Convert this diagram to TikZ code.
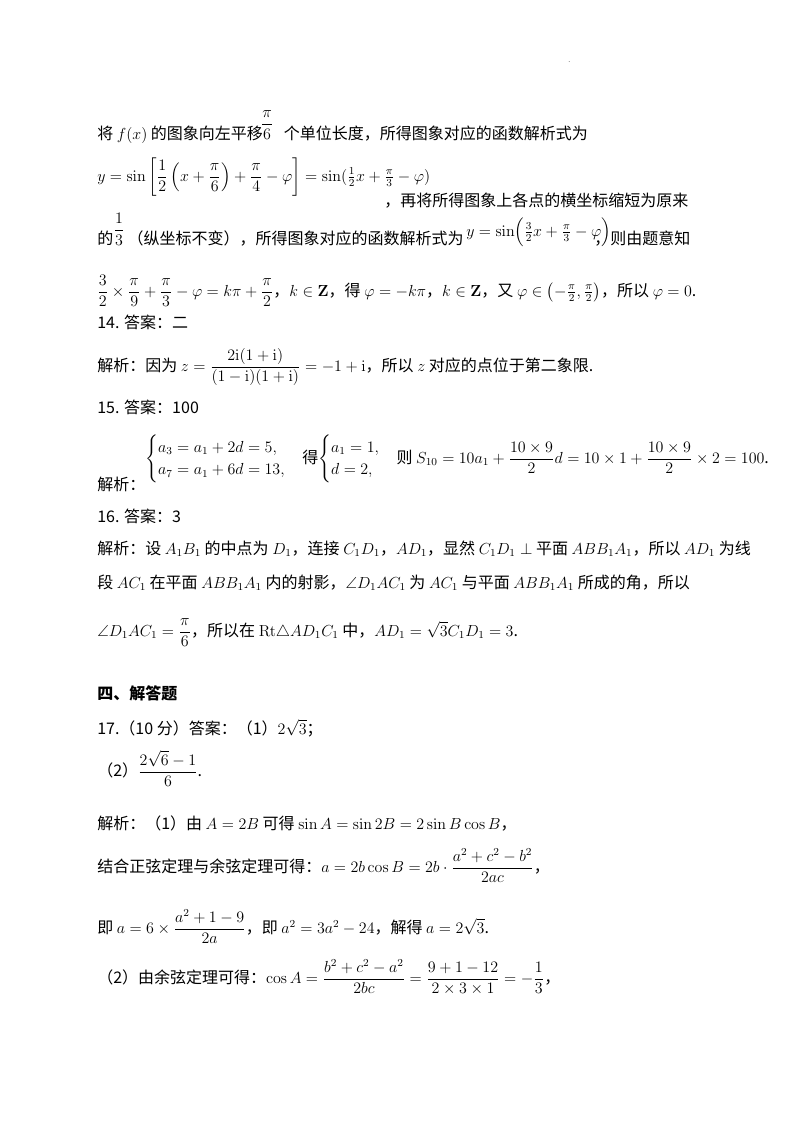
\documentclass[tikz,border=0pt]{standalone}
\usepackage{amsmath,amssymb}
\usepackage[no-math]{fontspec}
\setmainfont[Scale=1.0]{Noto Sans CJK SC}
\begin{document}
\begin{tikzpicture}[x=0.75pt,y=-0.75pt,
  every node/.style={inner sep=0pt,anchor=base west,font=\fontsize{12}{14}\selectfont}]
\useasboundingbox (0,0) rectangle (800,1132);
\fill[white] (0,0) rectangle (800,1132);
\node (dot) at (568,62) {\tiny .};
\node (l1) at (97,139) {将 $f(x)$ 的图象向左平移\hspace{1.3em}个单位长度，所得图象对应的函数解析式为};
\node[anchor=center] (l1f) at (267,125) {$\dfrac{\pi}{6}$};
\node (l2) at (97,181) {$y=\sin\left[\dfrac12\left(x+\dfrac{\pi}{6}\right)+\dfrac{\pi}{4}-\varphi\right]=\sin(\tfrac12x+\tfrac{\pi}{3}-\varphi)$};
\node (l2b) at (384,206) {，再将所得图象上各点的横坐标缩短为原来};
\node (l3) at (97,244) {的\hspace{0.9em}（纵坐标不变），所得图象对应的函数解析式为};
\node[anchor=center] (l3f) at (119,229) {$\dfrac{1}{3}$};
\node (l3m) at (466,236) {$y=\sin\Bigl(\tfrac32x+\tfrac{\pi}{3}-\varphi\Bigr)$};
\node (l3b) at (594,244) {，则由题意知};
\node (l4) at (97,296) {$\dfrac32\times\dfrac{\pi}{9}+\dfrac{\pi}{3}-\varphi=k\pi+\dfrac{\pi}{2}$，$k\in\mathbf Z$，得 $\varphi=-k\pi$，$k\in\mathbf Z$，又 $\varphi\in\left(-\tfrac{\pi}{2},\tfrac{\pi}{2}\right)$，所以 $\varphi=0$.};
\node (l5) at (97,328) {14. 答案：二};
\node (l6) at (97,371) {解析：因为 $z=\dfrac{2\mathrm i(1+\mathrm i)}{(1-\mathrm i)(1+\mathrm i)}=-1+\mathrm i$，所以 $z$ 对应的点位于第二象限.};
\node (l7) at (97,413) {15. 答案：100};
\node (l8) at (97,490) {解析：};
\node (l8m) at (145,463) {$\begin{cases}a_3=a_1+2d=5,\\ a_7=a_1+6d=13,\end{cases}$得$\begin{cases}a_1=1,\\ d=2,\end{cases}$则\ $S_{10}=10a_1+\dfrac{10\times9}{2}d=10\times1+\dfrac{10\times9}{2}\times2=100$.};
\node (l9) at (97,522) {16. 答案：3};
\node (l10) at (97,554) {解析：设 $A_1B_1$ 的中点为 $D_1$，连接 $C_1D_1$，$AD_1$，显然 $C_1D_1\perp$ 平面 $ABB_1A_1$，所以 $AD_1$ 为线};
\node (l11) at (97,588) {段 $AC_1$ 在平面 $ABB_1A_1$ 内的射影，$\angle D_1AC_1$ 为 $AC_1$ 与平面 $ABB_1A_1$ 所成的角，所以};
\node (l12) at (97,636) {$\angle D_1AC_1=\dfrac{\pi}{6}$，所以在 $\mathrm{Rt}\triangle AD_1C_1$ 中，$AD_1=\sqrt3C_1D_1=3$.};
\node (l13) at (97,699) {\bfseries 四、解答题};
\node (l14) at (97,734) {17.（10 分）答案：（1）$2\sqrt3$；};
\node (l15) at (97,776) {（2）$\dfrac{2\sqrt6-1}{6}$.};
\node (l16) at (97,829) {解析：（1）由 $A=2B$ 可得 $\sin A=\sin 2B=2\sin B\cos B$，};
\node (l17) at (97,872) {结合正弦定理与余弦定理可得：$a=2b\cos B=2b\cdot\dfrac{a^2+c^2-b^2}{2ac}$，};
\node (l18) at (97,933) {即 $a=6\times\dfrac{a^2+1-9}{2a}$，即 $a^2=3a^2-24$，解得 $a=2\sqrt3$.};
\node (l19) at (97,983) {（2）由余弦定理可得：$\cos A=\dfrac{b^2+c^2-a^2}{2bc}=\dfrac{9+1-12}{2\times3\times1}=-\dfrac13$，};
\end{tikzpicture}
\end{document}
